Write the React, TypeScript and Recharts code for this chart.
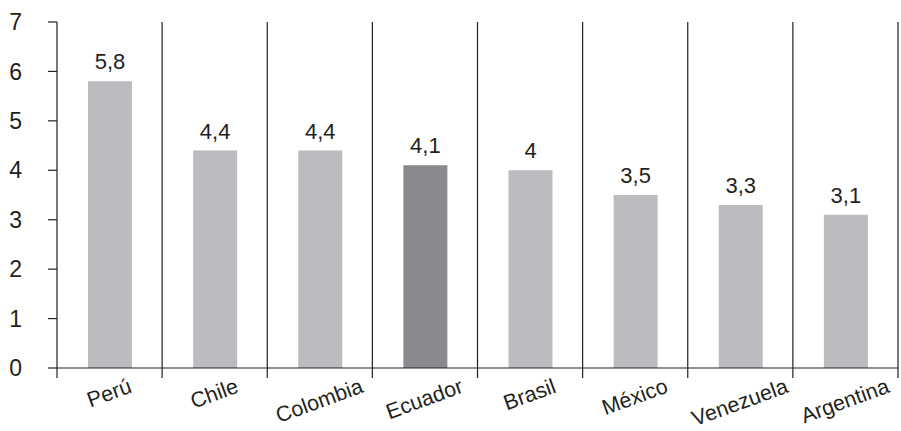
import { BarChart, Bar, XAxis, YAxis, CartesianGrid, Cell, LabelList } from 'recharts';

// Tasa
const countries = ['Perú', 'Chile', 'Colombia', 'Ecuador', 'Brasil', 'México', 'Venezuela', 'Argentina'];
const values = [5.8, 4.4, 4.4, 4.1, 4, 3.5, 3.3, 3.1];
const yTicks = [0, 1, 2, 3, 4, 5, 6, 7];
const highlighted = 'Ecuador';

const data = countries.map((name, i) => ({ name, value: values[i] }));

const W = 901;
const H = 431;
const MARGIN = { top: 22, right: 3, left: 0, bottom: 0 };
const Y_AXIS_W = 57;
const X_AXIS_H = 63;
const STEP = (W - MARGIN.left - MARGIN.right - Y_AXIS_W) / countries.length;

const INK = '#231f20';
const FONT = '"Liberation Sans", Arial, sans-serif';
const FS_X = 21.5;
const FS_Y = 23;
const FS_VAL = 22;
const ANGLE = 20;

let ctx: CanvasRenderingContext2D | null = null;
const textWidth = (s: string) => {
    if (!ctx) ctx = document.createElement('canvas').getContext('2d');
    if (!ctx) return s.length * FS_X * 0.55;
    ctx.font = `${FS_X}px "Liberation Sans"`;
    return ctx.measureText(s).width;
};

const fmt = (v: any) => String(v).replace('.', ',');

// rotated label, centred under its category, plus the boundary tick marks
const CountryTick = ({ x, y, payload }: any) => {
    const name = payload.value;
    const i = countries.indexOf(name);
    const w = textWidth(name);
    const ex = x + (w * Math.cos((ANGLE * Math.PI) / 180)) / 2 + 2;
    const ey = y + 24;
    return (
        <g>
            <line x1={x - STEP / 2} y1={y} x2={x - STEP / 2} y2={y + 10} stroke={INK} strokeWidth={1.2} />
            {i === countries.length - 1 && (
                <line x1={x + STEP / 2} y1={y} x2={x + STEP / 2} y2={y + 10} stroke={INK} strokeWidth={1.2} />
            )}
            <text
                x={ex}
                y={ey}
                textAnchor="end"
                fill={INK}
                fontSize={FS_X}
                fontFamily={FONT}
                transform={`rotate(-${ANGLE} ${ex} ${ey})`}
            >
                {name}
            </text>
        </g>
    );
};

export default function App() {
    return (
        <div style={{ position: 'absolute', left: 0, top: 0, background: '#fff' }}>
            <BarChart width={W} height={H} data={data} margin={MARGIN} style={{ fontFamily: FONT }}>
                <CartesianGrid
                    horizontal={false}
                    stroke={INK}
                    strokeWidth={1.2}
                    verticalCoordinatesGenerator={({ offset }: any) =>
                        countries.map((_, i) => offset.left + STEP * (i + 1))
                    }
                />
                <XAxis
                    dataKey="name"
                    height={X_AXIS_H}
                    interval={0}
                    tickLine={false}
                    tickSize={0}
                    tickMargin={0}
                    axisLine={{ stroke: INK, strokeWidth: 1.2 }}
                    tick={<CountryTick />}
                />
                <YAxis
                    width={Y_AXIS_W}
                    domain={[0, 7]}
                    ticks={yTicks}
                    interval={0}
                    tickSize={9}
                    tickMargin={26}
                    axisLine={{ stroke: INK, strokeWidth: 1.2 }}
                    tickLine={{ stroke: INK, strokeWidth: 1.2 }}
                    tick={{ fill: INK, fontSize: FS_Y, fontFamily: FONT }}
                />
                <Bar dataKey="value" barSize={44} isAnimationActive={false}>
                    {data.map((d) => (
                        <Cell key={d.name} fill={d.name === highlighted ? '#898a8d' : '#bbbcbf'} />
                    ))}
                    <LabelList
                        dataKey="value"
                        position="top"
                        offset={12}
                        formatter={fmt}
                        fill={INK}
                        fontSize={FS_VAL}
                        fontFamily={FONT}
                    />
                </Bar>
            </BarChart>
        </div>
    );
}
